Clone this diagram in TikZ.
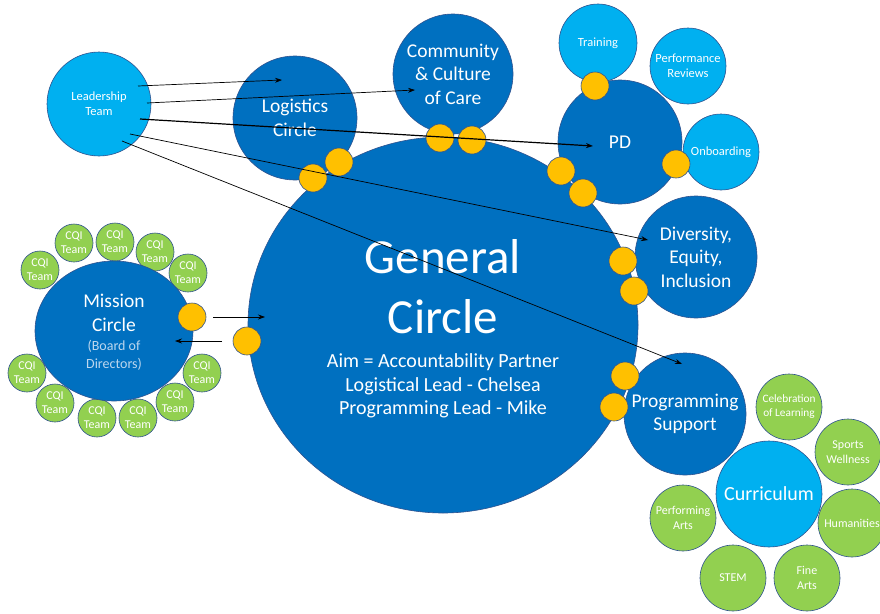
\documentclass[tikz,border=0pt]{standalone}
\usepackage{fontspec}
\setmainfont{Carlito}
\usetikzlibrary{arrows.meta,positioning,shapes.geometric}
\definecolor{darkblue}{HTML}{0070C0}
\definecolor{lightblue}{HTML}{00B0F0}
\definecolor{leafgreen}{HTML}{92D050}
\definecolor{linkgold}{HTML}{FFC000}
\definecolor{rimblue}{HTML}{2F528F}
\definecolor{paleblue}{HTML}{BDD7EE}

\begin{document}
\begin{tikzpicture}[
    x = 1pt, y = -1pt, % one unit per pixel, y runs down
    > = {Stealth[length=7pt,width=5pt]}, % arrow head style
    semithick % line style
    ]
\tikzset{
    circ/.style = {shape=circle, draw=rimblue, line width=0.6pt, inner sep=0pt, align=center, text=white},
    main/.style = {circ, fill=darkblue, font=\fontsize{19.5}{23.5}\selectfont},
    sub/.style = {circ, fill=lightblue, font=\fontsize{12.5}{15}\selectfont},
    leaf/.style = {circ, fill=leafgreen, font=\fontsize{12}{15}\selectfont},
    cqi/.style = {leaf, minimum size=38pt, font=\fontsize{12}{14}\selectfont},
    link/.style = {circ, fill=linkgold, minimum size=28pt},
    flow/.style = {->, black, line width=0.7pt}
}
    \useasboundingbox (0,0) rectangle (880,613);

    % leadership
    \node[sub, minimum size=104pt] (LT) at (99,104) {Leadership\\Team};

    % mission circle and its teams
    \node[cqi] (Q1) at (40,270) {CQI\\Team};
    \node[cqi] (Q2) at (74,243) {CQI\\Team};
    \node[cqi] (Q3) at (115,242) {CQI\\Team};
    \node[cqi] (Q4) at (155,252) {CQI\\Team};
    \node[cqi] (Q5) at (188,273) {CQI\\Team};
    \node[cqi] (Q6) at (202,373) {CQI\\Team};
    \node[cqi] (Q7) at (175,402) {CQI\\Team};
    \node[cqi] (Q8) at (138,418) {CQI\\Team};
    \node[cqi] (Q9) at (97,418) {CQI\\Team};
    \node[cqi] (Q10) at (55,403) {CQI\\Team};
    \node[cqi] (Q11) at (27,373) {CQI\\Team};
    \node[main, shape=ellipse, minimum width=158pt, minimum height=140pt] (M) at (114,331) {};
    \node[text=white, align=center, font=\fontsize{19.5}{23.5}\selectfont] (Mt) at (114,313) {Mission\\Circle};
    \node[text=paleblue, align=center, font=\fontsize{14}{18}\selectfont] (Mb) at (114,355) {(Board of\\Directors)};

    % general circle
    \node[main, shape=ellipse, minimum width=390pt, minimum height=376pt] (G) at (443,325) {};
    \node[text=white, anchor=base, font=\fontsize{49}{56}\selectfont] (G1) at (443,273) {General};
    \node[text=white, anchor=base, font=\fontsize{49}{56}\selectfont] (G2) at (443,333) {Circle};
    \node[text=white, anchor=base, font=\fontsize{20}{23}\selectfont] (G3) at (443,367) {Aim = Accountability Partner};
    \node[text=white, anchor=base, font=\fontsize{20}{23}\selectfont] (G4) at (443,391) {Logistical Lead - Chelsea};
    \node[text=white, anchor=base, font=\fontsize{20}{23}\selectfont] (G5) at (443,414) {Programming Lead - Mike};

    % sub circles
    \node[main, minimum size=124pt] (L) at (295,118) {Logistics\\Circle};
    \node[main, minimum size=120pt] (C) at (453,74) {Community\\\& Culture\\of Care};
    \node[sub, minimum size=78pt] (T) at (598,43) {Training};
    \node[sub, minimum size=76pt] (R) at (688,66) {Performance\\Reviews};
    \node[sub, minimum size=76pt] (O) at (721,152) {Onboarding};
    \node[main, minimum size=124pt] (PD) at (620,142) {PD};
    \node[main, minimum size=122pt] (D) at (696,257) {Diversity,\\Equity,\\Inclusion};
    \node[main, minimum size=122pt] (P) at (685,414) {Programming\\Support};

    % curriculum
    \node[leaf, minimum size=66pt, font=\fontsize{11.3}{14}\selectfont] (K1) at (789,407) {Celebration\\of Learning};
    \node[leaf, minimum size=66pt] (K2) at (848,452) {Sports\\Wellness};
    \node[leaf, minimum size=68pt] (K3) at (852,523) {Humanities};
    \node[leaf, minimum size=66pt] (K4) at (807,578) {Fine\\Arts};
    \node[leaf, minimum size=66pt] (K5) at (733,578) {STEM};
    \node[leaf, minimum size=66pt] (K6) at (683,518) {Performing\\Arts};
    \node[sub, minimum size=106pt, font=\fontsize{20}{23.5}\selectfont] (K) at (769,494) {Curriculum};

    % links
    \node[link] (a1) at (313,178) {};
    \node[link] (a2) at (339,162) {};
    \node[link] (a3) at (440,138) {};
    \node[link] (a4) at (472,140) {};
    \node[link] (a5) at (595,86) {};
    \node[link] (a6) at (561,171) {};
    \node[link] (a7) at (583,193) {};
    \node[link] (a8) at (676,164) {};
    \node[link] (a9) at (623,261) {};
    \node[link] (a10) at (634,291) {};
    \node[link] (a11) at (625,376) {};
    \node[link] (a12) at (614,407) {};
    \node[link] (a13) at (192,317) {};
    \node[link] (a14) at (247,341) {};

    % arrows
    \coordinate (s1) at (138,86);
    \coordinate (s2) at (147,103);
    \coordinate (s3) at (140,119);
    \coordinate (s4) at (130,134);
    \coordinate (s5) at (122,141);
    \coordinate (e1) at (282,80);
    \coordinate (e2) at (415,90);
    \coordinate (e3) at (593,146);
    \coordinate (e4) at (648,240);
    \coordinate (e5) at (682,364);
    \coordinate (m1) at (213,317);
    \coordinate (m2) at (265,317);
    \coordinate (m3) at (222,341);
    \coordinate (m4) at (175,341);
     \path [flow] (s1) edge (e1);
     \path [flow] (s2) edge (e2);
     \path [flow, line width=1.2pt] (s3) edge (e3);
     \path [flow] (s4) edge (e4);
     \path [flow] (s5) edge (e5);
     \path [flow] (m1) edge (m2);
     \path [flow] (m3) edge (m4);
\end{tikzpicture}
\end{document}
